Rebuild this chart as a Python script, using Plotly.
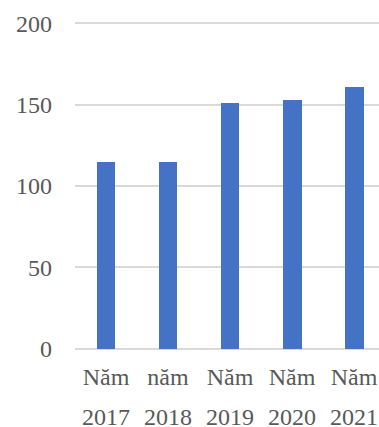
import plotly.graph_objects as go

categories = ["2017", "2018", "2019", "2020", "2021"]
prefixes = ["Năm", "năm", "Năm", "Năm", "Năm"]
values = [115, 115, 151, 153, 161]
y_ticks = [0, 50, 100, 150, 200]

FONT = "Liberation Serif"
TXT = "#595959"

fig = go.Figure()
fig.add_trace(go.Bar(
    x=list(range(len(categories))), y=values, width=0.306,
    marker=dict(color="#4472C4", line=dict(width=0)),
))

annotations = [
    dict(x=i, y=0, xref="x", yref="paper", text=c, showarrow=False,
         yanchor="top", xanchor="center", yshift=-52, borderpad=0,
         font=dict(family=FONT, size=24, color=TXT))
    for i, c in enumerate(categories)
]

fig.update_layout(
    width=379, height=427,
    margin=dict(l=75, r=0, t=21, b=76),
    paper_bgcolor="white", plot_bgcolor="white",
    showlegend=False,
    bargap=0,
    annotations=annotations,
    xaxis=dict(
        range=[-0.5, 4.403],
        tickmode="array", tickvals=list(range(len(categories))), ticktext=prefixes,
        tickfont=dict(family=FONT, size=24, color=TXT),
        showgrid=False, zeroline=False, showline=False, ticks="",
        ticklabelstandoff=9,
    ),
    yaxis=dict(
        range=[-1.5, 201.5],
        tickmode="array", tickvals=y_ticks,
        tickfont=dict(family=FONT, size=24, color=TXT),
        showgrid=True, gridcolor="#d9d9d9", gridwidth=1.5,
        zeroline=False, showline=False, ticks="",
        ticklabelstandoff=22,
    ),
)

fig.write_html("out.html")
